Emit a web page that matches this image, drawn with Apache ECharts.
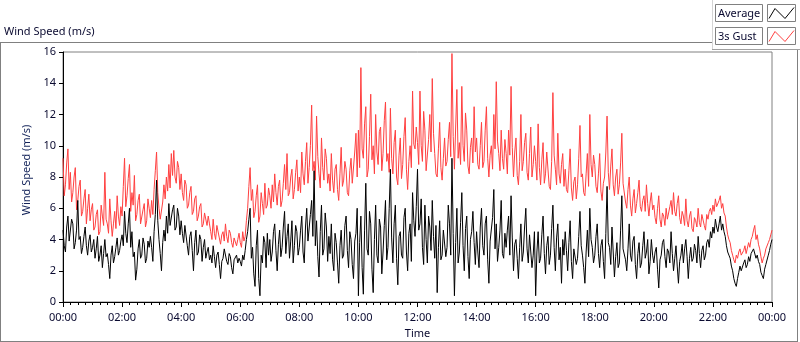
<!DOCTYPE html>
<html lang="en">
<head>
  <meta charset="UTF-8">
  <script src="https://cdn.jsdelivr.net/npm/echarts@6/dist/echarts.min.js"></script>
  <title>Wind Speed</title>
  <style>
    html, body { margin: 0; padding: 0; background: #fff; }
  </style>
</head>
<body>
  <div id="chart" style="width: 800px;height:342px;"></div>

  <script>
    // minutes between two samples
    var stepMinutes = 2.5;

    // 3s gust, one row per hour (24 samples), last value is 24:00
    var gust = [
      9.2,6.8, 7.5,8.9, 9.8,7.2, 8.3,6.4, 7.0,8.0, 8.6,5.9, 6.5,7.4, 7.8,5.5, 5.8,6.6, 7.2,5.0, 6.0,6.9, 5.2,5.9,
      6.3,4.6, 4.8,5.6, 5.9,4.3, 4.5,6.2, 5.5,4.9, 8.3,5.3, 5.0,4.4, 6.6,5.2, 4.2,5.0, 5.8,4.7, 6.8,5.5, 4.9,6.1,
      5.5,7.4, 9.2,6.1, 6.8,7.9, 8.8,5.8, 7.0,6.2, 8.1,5.2, 5.6,6.5, 6.9,5.0, 4.9,5.9, 6.3,4.8, 5.2,6.6, 6.0,5.4,
      6.5,5.6, 7.2,8.4, 9.6,7.0, 6.0,5.3, 5.2,6.4, 7.5,6.6, 8.0,7.1, 8.8,7.3, 9.5,8.1, 9.7,8.0, 7.6,9.0, 8.6,7.2,
      8.2,7.0, 6.5,7.8, 7.5,6.0, 6.2,7.0, 7.4,5.6, 5.8,6.6, 6.8,5.2, 5.5,6.1, 6.3,4.8, 5.0,5.7, 5.8,4.9, 5.5,5.0,
      4.5,4.0, 5.3,4.4, 4.0,4.9, 4.8,4.1, 3.7,4.3, 4.5,3.9, 5.0,4.2, 3.8,4.6, 4.4,3.8, 3.5,4.1, 4.2,3.6, 4.0,4.4,
      3.8,3.5, 4.5,3.9, 4.2,5.2, 6.0,7.4, 8.6,6.5, 7.2,5.4, 5.8,6.8, 7.5,5.1, 5.5,7.0, 6.3,5.6, 7.6,6.0, 6.2,7.3,
      6.8,6.0, 7.5,6.4, 8.2,7.0, 6.2,7.4, 7.8,6.1, 6.5,7.6, 8.8,7.2, 9.5,6.8, 7.0,8.0, 8.5,6.6, 7.2,8.3, 9.1,7.1,
      8.0,7.0, 9.6,8.2, 7.5,9.0, 10.2,7.6, 8.6,10.0, 12.6,8.4, 9.0,7.8, 11.9,9.3, 8.2,7.3, 10.5,8.6, 7.8,9.8, 9.2,7.6,
      8.2,7.1, 9.5,7.8, 7.0,8.5, 8.8,7.2, 6.5,8.2, 9.9,7.4, 7.8,9.0, 8.5,7.0, 6.8,8.4, 9.2,7.6, 7.5,9.6, 10.8,8.0,
      11.0,8.6, 15.0,9.8, 9.2,11.4, 12.5,8.0, 8.5,10.6, 13.3,9.1, 10.0,8.2, 12.0,9.6, 8.8,10.9, 11.2,8.4, 9.5,11.6, 12.8,9.0,
      9.5,8.3, 12.4,9.2, 8.2,10.2, 11.0,8.0, 7.5,9.4, 10.5,7.9, 8.8,10.6, 11.8,8.5, 7.2,9.0, 10.0,8.6, 13.5,10.1, 9.8,11.2,
      10.2,8.8, 13.5,10.0, 9.0,12.2, 11.0,8.4, 8.5,10.4, 12.0,9.6, 14.3,10.8, 9.5,8.2, 8.0,9.8, 11.5,8.6, 7.8,9.2, 10.5,8.7,
      9.0,10.4, 11.5,9.3, 15.9,10.6, 8.5,11.2, 13.6,9.2, 10.2,8.8, 13.8,10.0, 9.0,12.1, 11.0,8.7, 8.2,9.9, 10.5,8.9, 12.5,9.6,
      10.5,8.8, 8.5,10.0, 11.5,8.6, 9.0,11.0, 12.5,9.2, 8.0,9.4, 10.0,8.5, 12.0,9.8, 14.1,10.3, 9.5,8.4, 11.0,9.2, 8.5,10.4,
      9.5,8.2, 11.0,9.4, 13.8,9.9, 8.0,9.6, 10.5,8.1, 7.5,9.0, 12.0,8.4, 9.0,10.2, 10.8,8.3, 7.8,9.5, 11.2,8.0, 8.8,10.0,
      9.0,7.8, 11.4,8.6, 7.5,9.1, 10.2,7.6, 8.2,9.6, 9.5,7.4, 7.2,9.0, 13.4,9.4, 8.5,7.5, 10.8,8.2, 7.6,8.8, 9.5,7.4,
      8.5,7.2, 7.0,8.4, 9.8,7.3, 6.5,7.7, 8.0,6.6, 7.5,9.2, 11.3,8.0, 8.2,7.0, 6.8,8.2, 9.5,7.4, 12.0,8.8, 8.0,9.4,
      8.8,7.4, 7.0,8.2, 9.5,7.1, 6.5,7.6, 8.0,9.6, 11.9,8.3, 7.2,8.7, 9.8,7.5, 6.8,8.0, 8.5,6.9, 7.5,8.9, 10.8,7.6,
      7.5,6.4, 6.0,7.2, 8.0,6.2, 5.5,6.6, 7.2,5.7, 6.3,7.0, 7.8,6.1, 5.8,6.5, 6.8,5.8, 7.5,6.3, 5.5,6.4, 7.0,5.9,
      6.2,5.4, 5.0,6.0, 6.8,5.3, 4.8,5.7, 5.5,4.9, 6.0,5.3, 5.2,6.1, 6.5,5.6, 7.0,5.8, 5.5,6.3, 6.8,5.4, 5.0,5.8,
      5.5,4.9, 6.6,5.2, 4.8,5.5, 5.8,4.7, 4.5,5.4, 5.2,4.8, 6.0,5.1, 4.8,5.6, 5.5,4.9, 4.6,5.6, 5.3,5.8, 6.0,5.6,
      6.2,5.8, 6.6,6.1, 6.0,6.5, 6.8,6.0, 6.3,5.7, 5.5,4.8, 4.3,4.0, 3.8,3.3, 3.0,2.7, 2.5,3.0, 2.8,3.2, 3.4,3.0,
      3.0,3.3, 3.6,3.1, 3.2,3.8, 3.5,4.0, 4.2,4.6, 4.9,4.0, 4.3,3.7, 3.4,2.9, 2.5,2.8, 3.0,3.4, 3.5,3.8, 4.0,4.3,
      4.6
    ];

    // average wind speed, same time steps
    var average = [
      4.6,3.6, 3.2,4.8, 5.5,3.9, 4.0,5.3, 5.0,3.4, 3.8,4.6, 6.5,4.0, 4.2,3.1, 3.5,4.2, 4.8,3.6, 3.0,3.9, 4.3,3.2,
      3.5,4.0, 2.8,3.4, 4.2,2.6, 3.0,3.6, 2.2,3.1, 4.0,2.9, 3.1,2.4, 1.5,3.0, 3.6,2.5, 2.9,3.5, 4.1,3.0, 3.3,3.9,
      4.3,3.6, 5.8,4.4, 3.8,5.0, 6.0,3.5, 4.5,2.9, 3.2,1.4, 2.1,3.4, 4.0,2.8, 3.0,4.1, 3.7,2.5, 2.8,3.9, 3.5,4.2,
      3.5,2.6, 4.5,5.6, 7.8,5.2, 4.0,3.1, 2.0,3.8, 4.6,3.9, 5.5,4.4, 6.3,4.9, 5.0,5.9, 6.2,4.6, 4.8,6.0, 5.5,4.3,
      5.2,4.4, 3.8,4.9, 5.0,3.6, 3.0,4.2, 4.5,3.3, 2.0,3.8, 4.6,3.0, 3.2,4.3, 4.0,2.6, 3.5,4.0, 2.8,3.2, 3.5,2.7,
      3.0,2.5, 3.6,2.9, 2.2,3.0, 3.2,2.4, 1.5,2.6, 2.8,3.4, 3.3,2.6, 2.4,3.1, 2.9,2.2, 1.8,2.7, 2.6,3.0, 2.5,2.8,
      2.6,2.3, 3.0,2.7, 3.3,4.0, 4.5,5.3, 6.0,2.8, 3.5,1.8, 1.0,3.6, 4.6,1.5, 0.4,3.0, 2.5,4.2, 3.8,2.2, 4.4,3.0,
      4.0,2.6, 3.2,4.5, 5.0,3.3, 2.0,3.7, 4.6,2.9, 3.5,4.8, 5.8,3.1, 4.2,5.0, 2.8,3.9, 5.2,2.5, 3.6,4.9, 4.5,3.0,
      3.5,4.6, 5.5,3.2, 2.5,4.8, 6.0,3.9, 4.0,5.6, 6.5,4.2, 8.4,3.6, 5.2,2.9, 1.6,4.5, 6.2,3.0, 3.4,5.7, 4.8,2.6,
      4.2,3.1, 5.0,2.7, 2.0,4.4, 3.8,2.5, 1.2,3.6, 4.6,2.8, 3.0,4.9, 5.5,3.3, 2.2,4.5, 4.0,2.4, 1.5,3.9, 4.4,6.0,
      0.4,3.8, 5.5,2.2, 0.5,4.6, 7.6,3.4, 3.0,5.8, 5.0,2.1, 0.6,4.0, 6.2,3.0, 2.5,5.3, 4.8,1.8, 3.2,4.9, 6.5,2.7,
      3.5,6.0, 8.5,4.1, 2.5,5.0, 6.2,2.8, 1.1,4.2, 4.5,3.0, 2.8,5.4, 6.0,3.2, 2.0,4.4, 5.0,2.6, 7.0,5.2, 4.2,6.1,
      8.5,4.6, 5.0,6.6, 3.5,2.4, 6.2,4.0, 2.5,5.5, 4.8,3.3, 6.5,4.2, 2.8,4.9, 0.6,3.5, 5.2,2.7, 3.0,4.6, 4.5,2.9,
      3.5,6.2, 5.0,3.0, 9.2,4.4, 0.4,3.8, 6.0,2.5, 3.2,5.1, 7.0,3.6, 2.0,4.7, 5.5,2.9, 1.5,4.0, 4.5,5.8, 3.8,2.4,
      4.5,3.2, 2.2,4.8, 6.0,3.6, 3.0,5.0, 5.5,2.7, 1.2,3.9, 4.0,5.4, 7.2,3.4, 5.0,2.6, 3.5,4.6, 6.5,3.1, 2.8,4.4,
      3.5,4.6, 5.5,3.0, 6.8,4.1, 2.0,3.7, 4.0,2.8, 1.5,3.5, 5.0,2.6, 3.2,4.8, 6.0,3.4, 2.5,4.3, 4.2,2.2, 3.0,4.5,
      0.4,3.2, 4.5,2.5, 2.8,4.3, 5.5,3.1, 1.8,3.6, 4.2,2.4, 3.0,4.7, 6.2,3.5, 2.0,4.1, 5.0,2.7, 3.5,1.2, 4.0,3.0,
      4.5,3.3, 2.0,3.8, 5.2,2.6, 1.5,3.4, 3.5,2.4, 2.8,4.2, 5.8,3.6, 3.0,2.2, 1.2,3.2, 4.6,2.9, 6.0,4.0, 3.5,2.5,
      3.0,4.2, 5.0,3.1, 2.2,3.6, 4.0,2.6, 1.5,4.4, 7.4,3.8, 3.5,2.4, 4.8,3.2, 1.6,2.9, 3.8,2.2, 2.5,4.6, 6.8,3.4,
      3.5,2.7, 2.0,3.4, 5.0,3.0, 2.6,3.9, 4.2,2.4, 1.5,3.1, 3.8,2.2, 2.5,3.6, 4.5,2.8, 3.2,4.0, 1.8,2.6, 4.0,3.0,
      2.5,3.2, 3.5,2.1, 0.9,2.7, 3.0,3.8, 4.0,2.9, 2.2,3.4, 3.2,2.5, 4.5,3.1, 2.0,2.8, 3.6,2.3, 1.2,2.6, 3.0,3.7,
      2.5,3.4, 4.0,2.9, 1.5,2.8, 3.5,2.6, 2.8,3.7, 3.3,2.5, 4.2,3.1, 2.2,3.3, 3.6,2.7, 3.0,3.8, 4.0,3.5, 4.5,4.1,
      4.8,4.4, 5.3,4.8, 4.5,5.0, 5.5,4.6, 5.0,4.5, 4.2,3.6, 3.2,3.0, 2.8,2.3, 2.0,1.5, 1.2,1.0, 1.5,1.9, 2.3,2.0,
      2.0,2.5, 2.7,2.2, 2.4,2.9, 2.6,3.1, 3.2,3.4, 3.5,2.8, 3.0,2.6, 2.4,1.9, 1.7,1.5, 2.1,2.4, 2.5,3.0, 3.3,3.7,
      4.0
    ];

    var legendNames = ['Average', '3s Gust'];
    var legendColors = ['#000000', '#ff4040'];

    var textColor = '#0a0a30';
    var fontName = 'Noto Sans';

    // pair every value with its time in minutes
    function toPoints(values) {
      var points = [];
      for (var i = 0; i < values.length; i++) {
        points.push([i * stepMinutes, values[i]]);
      }
      return points;
    }

    function timeLabel(minutes) {
      var h = Math.floor(minutes / 60) % 24;
      var m = minutes % 60;
      return (h < 10 ? '0' : '') + h + ':' + (m < 10 ? '0' : '') + m;
    }

    // the little legend boxes in the top right corner
    function legendGraphics() {
      var items = [];
      for (var i = 0; i < legendNames.length; i++) {
        var top = 4.5 + i * 23;
        items.push({
          type: 'rect',
          shape: { x: 715.5, y: top, width: 47, height: 17 },
          style: { fill: '#fff', stroke: '#808080', lineWidth: 1 }
        });
        items.push({
          type: 'text',
          x: 718, y: top + 9,
          style: { text: legendNames[i], fill: textColor, font: '11px ' + fontName, verticalAlign: 'middle' }
        });
        items.push({
          type: 'rect',
          shape: { x: 767.5, y: top, width: 28, height: 17 },
          style: { fill: '#fff', stroke: '#808080', lineWidth: 1 }
        });
        items.push({
          type: 'polyline',
          shape: { points: [[769, top + 14], [775, top + 4], [785, top + 14], [794, top + 3]] },
          style: { stroke: legendColors[i], lineWidth: 1, fill: null }
        });
      }
      return items;
    }

    // outer frame of the graph panel
    var frame = [
      { type: 'line', shape: { x1: 0, y1: 42.5, x2: 712, y2: 42.5 }, style: { stroke: '#808080' } },
      { type: 'line', shape: { x1: 0.5, y1: 42, x2: 0.5, y2: 342 }, style: { stroke: '#808080' } },
      { type: 'line', shape: { x1: 0, y1: 341.5, x2: 798, y2: 341.5 }, style: { stroke: '#808080' } },
      { type: 'line', shape: { x1: 797.5, y1: 49, x2: 797.5, y2: 342 }, style: { stroke: '#808080' } },
      { type: 'line', shape: { x1: 712.5, y1: 0, x2: 712.5, y2: 49 }, style: { stroke: '#d4d4d4' } },
      { type: 'line', shape: { x1: 712, y1: 49.5, x2: 800, y2: 49.5 }, style: { stroke: '#a0a0a0' } },
      {
        type: 'text', x: 4, y: 32,
        style: { text: 'Wind Speed (m/s)', fill: textColor, font: '11px ' + fontName, verticalAlign: 'middle' }
      }
    ];

    var chart = echarts.init(document.getElementById('chart'));

    var option = {
      animation: false,
      backgroundColor: '#fff',
      textStyle: { fontFamily: fontName },
      grid: {
        left: 63, right: 28, top: 52, bottom: 40,
        outerBoundsMode: 'none',
        show: true, borderColor: '#808080', borderWidth: 1
      },
      xAxis: [
        {
          type: 'value',
          min: 0, max: 1440, interval: 120,
          name: 'Time',
          nameLocation: 'middle',
          nameGap: 26,
          nameTextStyle: { color: textColor, fontSize: 11 },
          axisLine: { show: true, onZero: false, lineStyle: { color: '#505050' } },
          axisTick: { show: true, length: 5, lineStyle: { color: '#000' } },
          minorTick: { show: true, splitNumber: 8, length: 3, lineStyle: { color: '#000' } },
          splitLine: { show: false },
          axisLabel: { color: textColor, fontSize: 11, margin: 10, formatter: timeLabel }
        },
        {
          // only draws the black top edge of the plot
          type: 'value', position: 'top',
          min: 0, max: 1440,
          axisLine: { show: true, lineStyle: { color: '#000' } },
          axisTick: { show: false }, axisLabel: { show: false }, splitLine: { show: false }
        }
      ],
      yAxis: {
        type: 'value',
        min: 0, max: 16, interval: 2,
        name: 'Wind Speed (m/s)',
        nameLocation: 'middle',
        nameGap: 20,
        nameTextStyle: { color: '#14245a', fontSize: 11, padding: [0, 0, 0, 14] },
        axisLine: { show: true, lineStyle: { color: '#000' } },
        axisTick: { show: true, length: 4, lineStyle: { color: '#000' } },
        splitLine: { show: false },
        axisLabel: { color: textColor, fontSize: 11, margin: 7 }
      },
      series: [
        {
          name: '3s Gust', type: 'line',
          data: toPoints(gust),
          showSymbol: false,
          lineStyle: { color: '#ff4040', width: 1 },
          itemStyle: { color: '#ff4040' }
        },
        {
          name: 'Average', type: 'line',
          data: toPoints(average),
          showSymbol: false,
          lineStyle: { color: '#000', width: 1 },
          itemStyle: { color: '#000' }
        }
      ],
      graphic: frame.concat(legendGraphics())
    };

    chart.setOption(option);
  </script>
</body>
</html>
